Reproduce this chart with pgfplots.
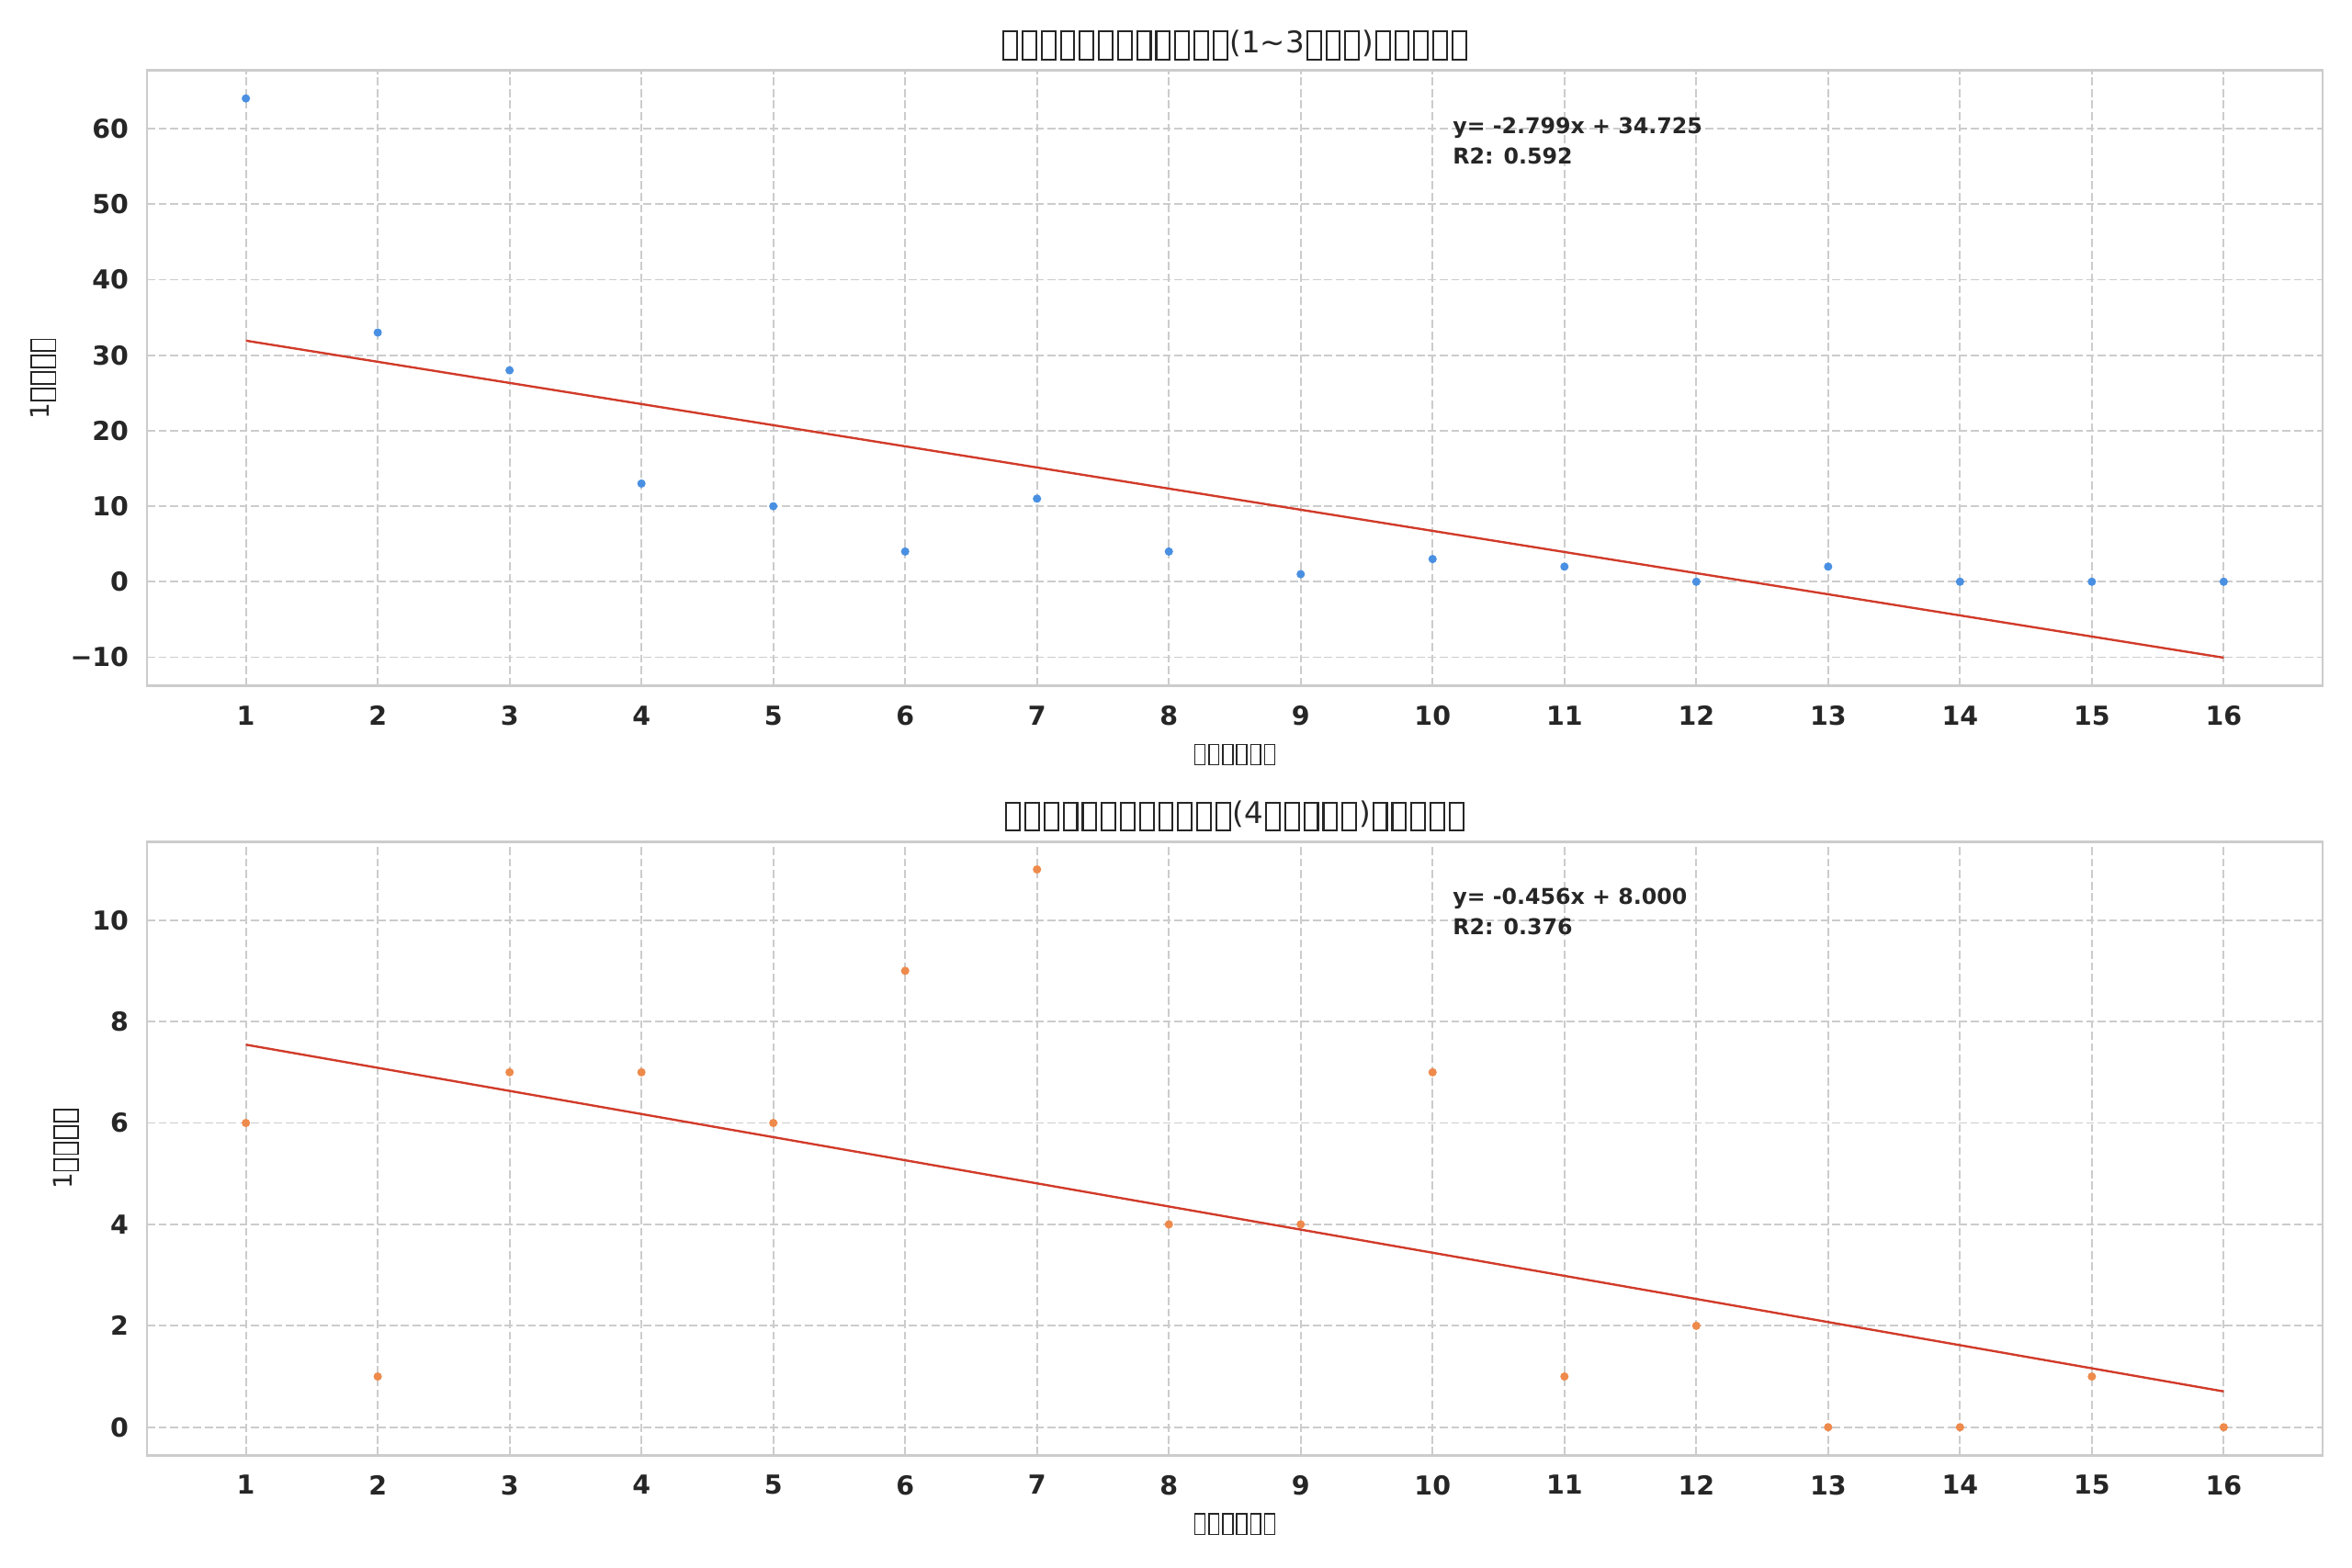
\documentclass[border=0pt]{standalone}
\usepackage{fontspec}
\setmainfont{DejaVu Sans}
\usepackage{pgfplots}
\pgfplotsset{compat=1.18}
\definecolor{txt}{HTML}{262626}
\definecolor{framec}{HTML}{CCCCCC}
\definecolor{gridc}{HTML}{CCCCCC}
\definecolor{ptblue}{HTML}{4A90E2}
\definecolor{ptorange}{HTML}{EE8A4B}
\definecolor{fitred}{HTML}{D13B2A}
\newcommand\tofu{\hbox to 0.64em{\hss\raisebox{-0.2em}{\setlength\fboxrule{0.065em}\setlength\fboxsep{0pt}\fbox{\rule{0pt}{0.87em}\rule{0.39em}{0pt}}}\hss}}
\newcommand\T[1]{\ifnum#1>0 \tofu\expandafter\T\expandafter{\the\numexpr#1-1\relax}\fi}
\pgfplotsset{
  mystyle/.style={
    scale only axis, width=999pt,
    xmin=0.25, xmax=16.75,
    xtick={1,...,16},
    grid=major,
    major grid style={gridc, line width=0.8pt, dash pattern=on 3.7pt off 1.6pt},
    axis line style={framec, line width=1.25pt},
    major tick length=0pt, tick style={draw=none},
    ticklabel style={font=\fontsize{12}{14}\selectfont\bfseries, text=txt},
    xticklabel style={yshift=-5.7pt},
    yticklabel style={xshift=-4.9pt},
    /pgf/number format/assume math mode=true,
    xlabel style={at={(rel axis cs:0.5,0)}, anchor=center, inner sep=0pt, yshift=-31.7pt, font=\fontsize{10}{12}\selectfont, text=txt},
    title style={at={(rel axis cs:0.5,1)}, anchor=south, inner sep=0pt, yshift=-1.5pt, font=\fontsize{13.7}{16}\selectfont, text=txt},
    clip=false,
  }
}
\begin{document}
\begin{tikzpicture}
\useasboundingbox (0,0) rectangle (1080pt,720pt);
% top
\begin{axis}[mystyle, at={(67.5pt,405.1pt)}, anchor=south west, height=282.5pt,
  ymin=-13.76, ymax=67.7,
  ytick={-10,0,10,20,30,40,50,60},
  yticklabels={−10,0,10,20,30,40,50,60},
  title={\T{12}(1\textasciitilde3\T{3})\T{5}},
  xlabel={\T{6}},
  ylabel={1\T{4}},
  ylabel style={at={([xshift=-47.5pt]rel axis cs:0,0.5)}, anchor=center, inner sep=0pt, rotate=0, font=\fontsize{11.8}{14}\selectfont, text=txt},
]
\addplot[only marks, mark=*, mark size=1.7pt, mark options={fill=ptblue, draw=ptblue}] coordinates {
(1,64) (2,33) (3,28) (4,13) (5,10) (6,4) (7,11) (8,4) (9,1) (10,3) (11,2) (12,0) (13,2) (14,0) (15,0) (16,0)};
\addplot[fitred, line width=1pt] coordinates {(1,31.926) (16,-10.059)};
\node[anchor=north west, inner sep=0pt, align=left, font=\fontsize{10}{14}\selectfont\bfseries, text=txt] at (rel axis cs:0.6,0.925) {y= -2.799x + 34.725\\R2: 0.592};
\end{axis}
% bottom
\begin{axis}[mystyle, at={(67.5pt,51.7pt)}, anchor=south west, height=281.8pt,
  ymin=-0.55, ymax=11.55,
  ytick={0,2,4,6,8,10},
  title={\T{12}(4\T{5})\T{5}},
  xlabel={\T{6}},
  ylabel={1\T{4}},
  ylabel style={at={([xshift=-37.2pt]rel axis cs:0,0.5)}, anchor=center, inner sep=0pt, rotate=0, font=\fontsize{11.8}{14}\selectfont, text=txt},
]
\addplot[only marks, mark=*, mark size=1.7pt, mark options={fill=ptorange, draw=ptorange}] coordinates {
(1,6) (2,1) (3,7) (4,7) (5,6) (6,9) (7,11) (8,4) (9,4) (10,7) (11,1) (12,2) (13,0) (14,0) (15,1) (16,0)};
\addplot[fitred, line width=1pt] coordinates {(1,7.544) (16,0.706)};
\node[anchor=north west, inner sep=0pt, align=left, font=\fontsize{10}{14}\selectfont\bfseries, text=txt] at (rel axis cs:0.6,0.925) {y= -0.456x + 8.000\\R2: 0.376};
\end{axis}
\end{tikzpicture}
\end{document}
